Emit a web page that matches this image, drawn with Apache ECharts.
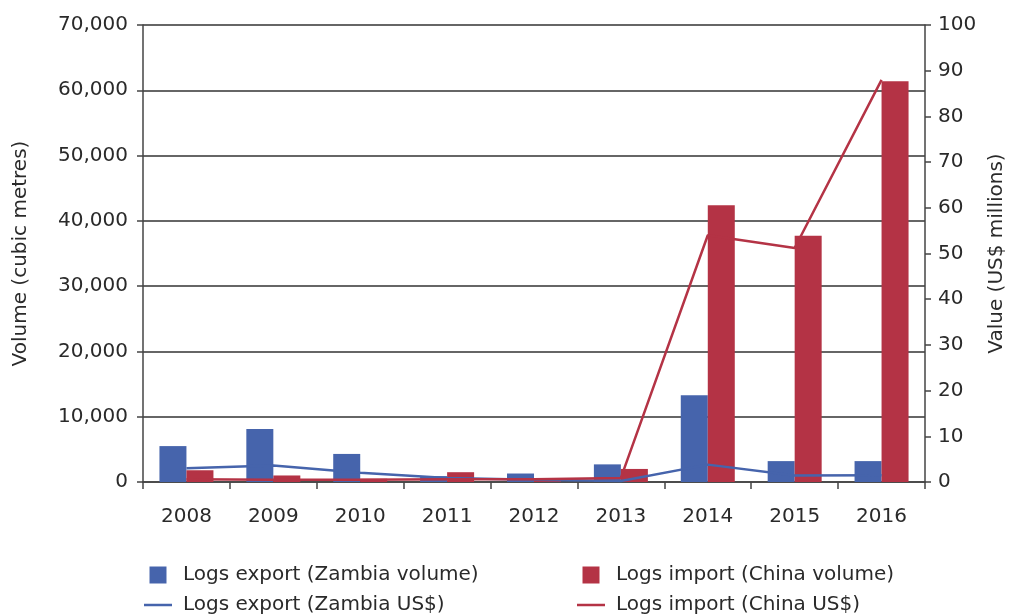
<!DOCTYPE html>
<html>
<head>
<meta charset="utf-8">
<script src="https://cdn.jsdelivr.net/npm/echarts@6/dist/echarts.min.js"></script>
<style>
html, body { margin: 0; padding: 0; background: #fff; }
#main { width: 1009px; height: 614px; }
</style>
</head>
<body>
<div id="main"></div>
<script>
// 年份
var years = ['2008', '2009', '2010', '2011', '2012', '2013', '2014', '2015', '2016'];
// 体积 (cubic metres)
var zambia_volume = [5500, 8100, 4300, 900, 1300, 2700, 13300, 3200, 3200];
var china_volume = [1800, 1000, 500, 1500, 600, 2000, 42400, 37700, 61400];
// 价值 (US$ millions)
var zambia_usd = [3.0, 3.6, 2.0, 0.9, 0.5, 0.2, 3.8, 1.4, 1.5];
var china_usd = [0.6, 0.5, 0.5, 0.6, 0.6, 0.9, 54.0, 51.2, 88.0];

var blue = '#4664ac';
var red = '#b43345';
var textColor = '#2a2a2a';
var fontFamily = 'DejaVu Sans, sans-serif';

// 图例图标
var squareIcon = 'path://M0,0H17V17H0Z';
var lineIcon = 'path://M0,0H28V2.5H0Z';

var myChart = echarts.init(document.getElementById('main'));

function legendConf(left, names, color) {
	return {
		orient: 'vertical',
		left: left,
		top: 565,
		height: 120,
		padding: 0,
		itemGap: 10,
		itemWidth: 28,
		itemHeight: 17,
		textStyle: { fontSize: 20, color: textColor, fontFamily: fontFamily, padding: [0, 0, 0, 6] },
		data: [
			{ name: names[0], icon: squareIcon, itemStyle: { color: color } },
			{ name: names[1], icon: lineIcon, itemStyle: { color: color } }
		]
	};
}

var option = {
	animation: false,
	textStyle: { fontFamily: fontFamily },
	grid: {
		left: 143,
		right: 84,
		top: 25,
		bottom: 132,
		outerBoundsMode: 'none'
	},
	legend: [
		legendConf(144, ['Logs export (Zambia volume)', 'Logs export (Zambia US$)'], blue),
		legendConf(577, ['Logs import (China volume)', 'Logs import (China US$)'], red)
	],
	xAxis: {
		type: 'category',
		data: years,
		axisLine: { lineStyle: { color: '#444', width: 1.5 } },
		axisTick: { show: true, length: 7, lineStyle: { color: '#444', width: 1.5 } },
		axisLabel: { fontSize: 20, color: textColor, margin: 25 }
	},
	yAxis: [{
		type: 'value',
		min: 0,
		max: 70000,
		interval: 10000,
		name: 'Volume (cubic metres)',
		nameLocation: 'middle',
		nameGap: 112,
		nameTextStyle: { fontSize: 20, color: textColor },
		axisLine: { show: true, lineStyle: { color: '#444', width: 1.5 } },
		axisTick: { show: true, length: 6, lineStyle: { color: '#444', width: 1.5 } },
		axisLabel: {
			fontSize: 20,
			color: textColor,
			margin: 15,
			formatter: function(v) {
				return v.toLocaleString('en-US');
			}
		},
		splitLine: { lineStyle: { color: '#333', width: 1.5 } }
	}, {
		type: 'value',
		min: 0,
		max: 100,
		interval: 10,
		name: 'Value (US$ millions)',
		nameLocation: 'middle',
		nameGap: 55,
		nameRotate: 90,
		nameTextStyle: { fontSize: 20, color: textColor },
		axisLine: { show: true, lineStyle: { color: '#444', width: 1.5 } },
		axisTick: { show: true, length: 6, lineStyle: { color: '#444', width: 1.5 } },
		axisLabel: { fontSize: 20, color: textColor, margin: 13 },
		splitLine: { show: false }
	}],
	series: [{
		name: 'Logs export (Zambia volume)',
		type: 'bar',
		data: zambia_volume,
		barWidth: 27,
		barGap: '0%',
		itemStyle: { color: blue }
	}, {
		name: 'Logs import (China volume)',
		type: 'bar',
		data: china_volume,
		barWidth: 27,
		barGap: '0%',
		itemStyle: { color: red }
	}, {
		name: 'Logs export (Zambia US$)',
		type: 'line',
		yAxisIndex: 1,
		data: zambia_usd,
		symbol: 'none',
		lineStyle: { color: blue, width: 2.5 },
		itemStyle: { color: blue }
	}, {
		name: 'Logs import (China US$)',
		type: 'line',
		yAxisIndex: 1,
		data: china_usd,
		symbol: 'none',
		lineStyle: { color: red, width: 2.5 },
		itemStyle: { color: red }
	}]
};

myChart.setOption(option);
</script>
</body>
</html>
